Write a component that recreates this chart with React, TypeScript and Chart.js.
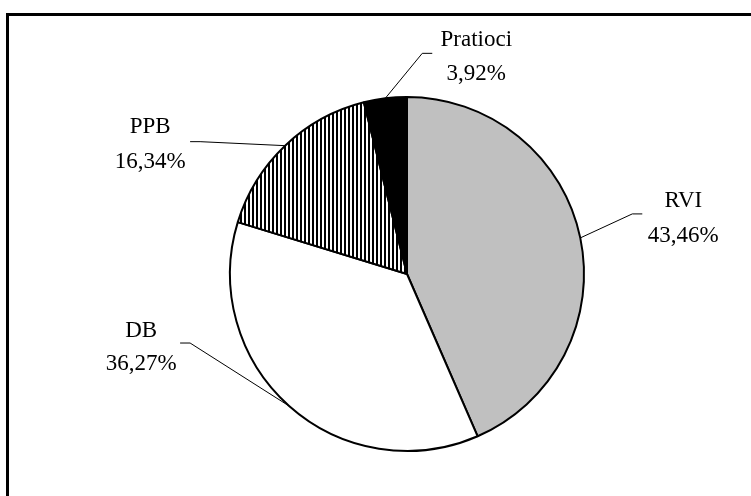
import React, { useEffect, useRef } from "react";
import { Chart, registerables } from "chart.js";

Chart.register(...registerables);

const categories = ["RVI", "DB", "PPB", "Pratioci"];
const values = [43.46, 36.27, 16.34, 3.92];
const valueLabels = ["43,46%", "36,27%", "16,34%", "3,92%"];

// label placement relative to the slice's outer mid-point (style only)
const labelStyles = [
  { elbow: [52, -24], tail: 10, text: [103, -30.7, 3.7] },
  { elbow: [-99, -63], tail: -10, text: [-148, -69.3, -36] },
  { elbow: [-85, -4], tail: -10, text: [-135, -13, 22] },
  { elbow: [37, -45], tail: 10, text: [91, -52.3, -18] },
];

function makeStripePattern(): CanvasPattern | string {
  const c = document.createElement("canvas");
  c.width = 4;
  c.height = 4;
  const g = c.getContext("2d");
  if (!g) return "#000";
  g.fillStyle = "#fff";
  g.fillRect(0, 0, 4, 4);
  g.fillStyle = "#000";
  g.fillRect(0, 0, 2, 4);
  const p = g.createPattern(c, "repeat");
  return p || "#000";
}

const labelPlugin = {
  id: "leaderLabels",
  afterDatasetsDraw(chart: any) {
    const ctx = chart.ctx as CanvasRenderingContext2D;
    const meta = chart.getDatasetMeta(0);
    meta.data.forEach((arc: any, i: number) => {
      const { x, y, startAngle, endAngle, outerRadius } = arc.getProps(
        ["x", "y", "startAngle", "endAngle", "outerRadius"],
        true
      );
      const mid = (startAngle + endAngle) / 2;
      const ex = x + Math.cos(mid) * outerRadius;
      const ey = y + Math.sin(mid) * outerRadius;
      const s = labelStyles[i];
      const bx = ex + s.elbow[0];
      const by = ey + s.elbow[1];
      ctx.save();
      ctx.strokeStyle = "#000";
      ctx.lineWidth = 1;
      ctx.beginPath();
      ctx.moveTo(ex, ey);
      ctx.lineTo(bx, by);
      ctx.lineTo(bx + s.tail, by);
      ctx.stroke();
      ctx.fillStyle = "#000";
      ctx.font = '23px "Liberation Serif", "DejaVu Serif", serif';
      ctx.textAlign = "center";
      ctx.textBaseline = "alphabetic";
      ctx.fillText(categories[i], ex + s.text[0], ey + s.text[1]);
      ctx.fillText(valueLabels[i], ex + s.text[0], ey + s.text[2]);
      ctx.restore();
    });
  },
};

export default function App() {
  const ref = useRef<HTMLCanvasElement | null>(null);
  useEffect(() => {
    if (!ref.current) return;
    const chart = new Chart(ref.current, {
      type: "pie",
      data: {
        labels: categories,
        datasets: [
          {
            data: values,
            backgroundColor: ["#c0c0c0", "#ffffff", makeStripePattern(), "#000000"],
            borderColor: "#000",
            borderWidth: 2,
            borderAlign: "center",
          },
        ],
      },
      options: {
        responsive: false,
        animation: false,
        layout: { padding: { left: 157, right: 94, top: 96, bottom: 44 } },
        plugins: {
          legend: { display: false },
          tooltip: { enabled: false },
        },
      },
      plugins: [labelPlugin],
    });
    return () => chart.destroy();
  }, []);
  return (
    <div style={{ position: "fixed", left: 0, top: 0, width: 751, height: 496, background: "#fff", overflow: "hidden" }}>
      <canvas ref={ref} width={751} height={496} style={{ position: "absolute", left: 0, top: 0 }} />
      <div
        style={{
          position: "absolute",
          left: 6,
          top: 13,
          width: 900,
          height: 700,
          borderTop: "3px solid #000",
          borderLeft: "3px solid #000",
          pointerEvents: "none",
        }}
      />
    </div>
  );
}
